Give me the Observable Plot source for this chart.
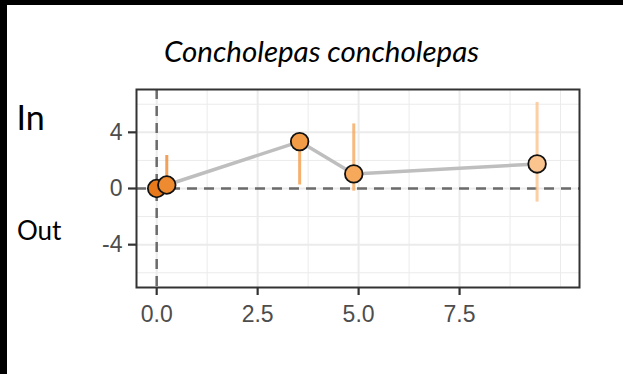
<!DOCTYPE html>
<html><head><meta charset="utf-8">
<script src="https://cdn.jsdelivr.net/npm/d3@7"></script>
<script src="https://cdn.jsdelivr.net/npm/@observablehq/plot@0.6"></script>
<style>
html,body{margin:0;padding:0;background:#fff;}
#wrap{position:relative;width:623px;height:374px;overflow:hidden;background:#fff;}
#wrap svg{position:absolute;left:0;top:0;}
.bar{position:absolute;background:#000;z-index:2;}
</style></head><body>
<div id="wrap"></div>
<script>
const titleText = "Concholepas concholepas";
const sideLabels = ["In", "Out"];
const distance = [0, 0.25, 3.54, 4.88, 9.42];
const effect = [0, 0.25, 3.34, 1.04, 1.75];
const lower = [0, -0.3, 0.25, -0.19, -0.97];
const upper = [0, 2.35, 3.6, 4.6, 6.13];
const pointColors = ["#E8791B", "#EE8A2F", "#F39C48", "#F6A85B", "#FBC38E"];
const xTicks = [0, 2.5, 5, 7.5];
const xMinor = [1.25, 3.75, 6.25, 8.75, 10];
const yTicks = [-4, 0, 4];
const yMinor = [-6, -2, 2, 6];

const data = distance.map((x, i) => ({x, y: effect[i], lo: lower[i], hi: upper[i], c: pointColors[i]}));
const bars = data.filter(d => d.hi > d.lo);

const plot = Plot.plot({
  width: 623, height: 374,
  marginLeft: 136, marginRight: 44, marginTop: 89, marginBottom: 87,
  x: {domain: [-0.5, 10.47]},
  y: {domain: [-7.05, 7.05]},
  color: {type: "identity"},
  style: {fontFamily: "'Liberation Sans', Arial, sans-serif", fontSize: "23px", background: "#fff", overflow: "visible"},
  marks: [
    Plot.ruleX(xMinor, {stroke: "#EBEBEB", strokeWidth: 1}),
    Plot.ruleY(yMinor, {stroke: "#EBEBEB", strokeWidth: 1}),
    Plot.ruleX(xTicks, {stroke: "#EBEBEB", strokeWidth: 2}),
    Plot.ruleY(yTicks, {stroke: "#EBEBEB", strokeWidth: 2}),
    Plot.ruleY([0], {stroke: "#6b6b6b", strokeWidth: 2.5, strokeDasharray: "10,7"}),
    Plot.ruleX([0], {stroke: "#6b6b6b", strokeWidth: 2.5, strokeDasharray: "10,7"}),
    Plot.ruleX(bars, {x: "x", y1: "lo", y2: "hi", stroke: "c", strokeOpacity: 0.8, strokeWidth: 3}),
    Plot.line(data, {x: "x", y: "y", stroke: "#BEBEBE", strokeWidth: 3.5}),
    Plot.dot(data, {x: "x", y: "y", r: 8.8, fill: "c", stroke: "#111", strokeWidth: 1.8}),
    Plot.frame({stroke: "#333", strokeWidth: 2}),
    Plot.axisX({ticks: xTicks, tickFormat: d => d.toFixed(1), tickSize: 8, tickPadding: 10, strokeWidth: 2.2, stroke: "#333", fill: "#4D4D4D", fontSize: 23, label: null}),
    Plot.axisY({ticks: yTicks, tickFormat: d => String(d), tickSize: 8, tickPadding: 6, strokeWidth: 2.2, stroke: "#333", fill: "#4D4D4D", fontSize: 23, label: null}),
    Plot.text([titleText], {frameAnchor: "top", dx: -36.5, dy: -27.3, lineAnchor: "bottom", fontFamily: "Lato", fontStyle: "italic", fontSize: 29.5, fill: "#000"}),
    Plot.text([sideLabels[0]], {frameAnchor: "top-left", textAnchor: "start", dx: -120, dy: 40, lineAnchor: "bottom", fontFamily: "Lato", fontSize: 34, fill: "#000"}),
    Plot.text([sideLabels[1]], {frameAnchor: "top-left", textAnchor: "start", dx: -119.5, dy: 150, lineAnchor: "bottom", fontFamily: "Lato", fontSize: 26, fill: "#000"})
  ]
});
const wrap = document.getElementById("wrap");
wrap.appendChild(plot);
const leftBar = document.createElement("div"); leftBar.className = "bar";
Object.assign(leftBar.style, {left: "0px", top: "0px", width: "7px", height: "374px"});
const topBar = document.createElement("div"); topBar.className = "bar";
Object.assign(topBar.style, {left: "0px", top: "0px", width: "623px", height: "5px"});
wrap.appendChild(leftBar); wrap.appendChild(topBar);
</script>
</body></html>
